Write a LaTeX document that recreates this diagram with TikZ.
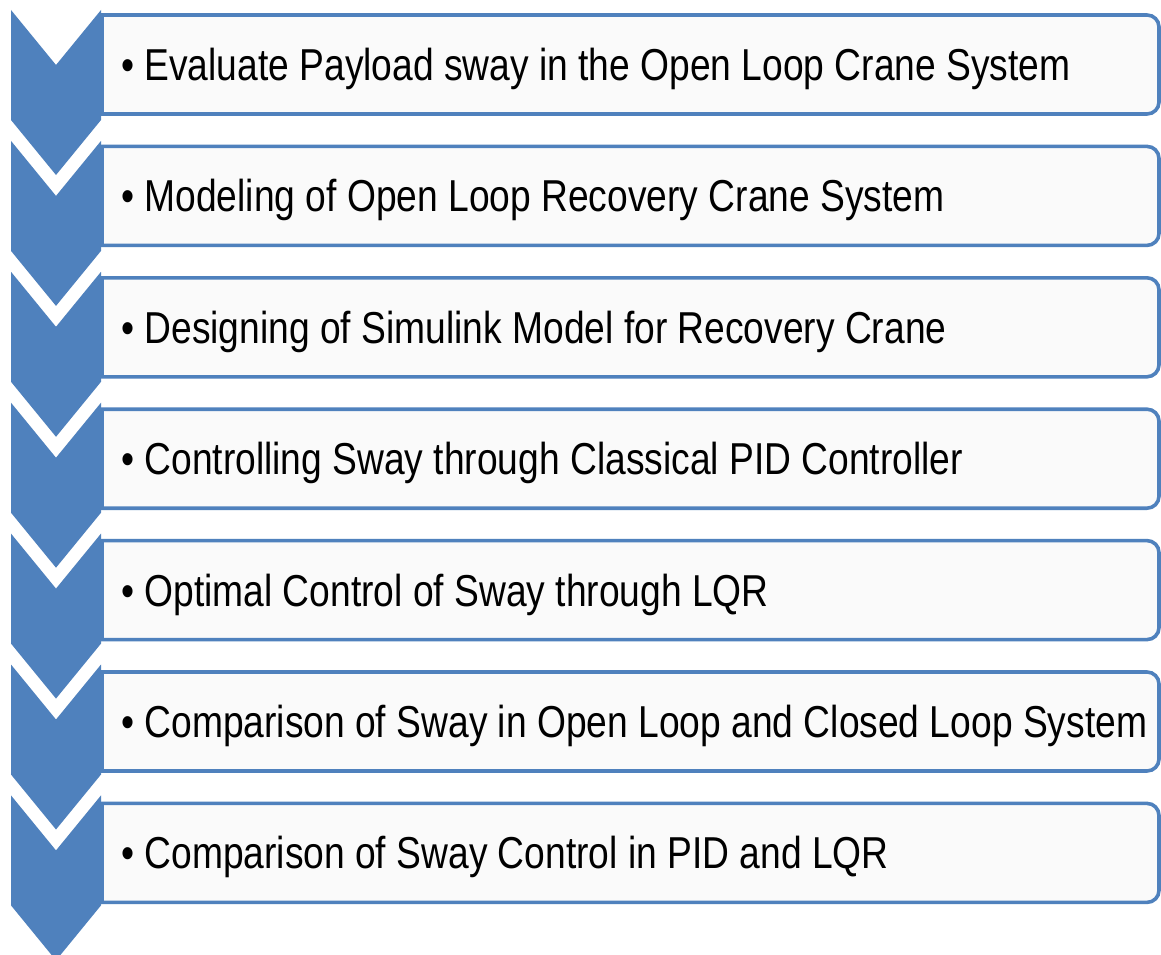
\documentclass[tikz,border=0pt]{standalone}
\usepackage{fontspec}
\setmainfont{Liberation Sans}
\definecolor{officeblue}{HTML}{4F81BD}
\definecolor{boxfill}{HTML}{FAFAFA}
\tikzset{
  chevron/.style={fill=officeblue, draw=none},
  listbox/.style={draw=officeblue, line width=3.6pt, fill=boxfill},
  itemtext/.style={anchor=base west, inner sep=0pt, font=\fontsize{44.7}{50}\selectfont, text=black}
}
\begin{document}
\begin{tikzpicture}[x=1pt,y=1pt]
\useasboundingbox (0,0) rectangle (1161,-955);
\fill[white] (0,0) rectangle (1161,-955);
\foreach \i/\txt in {
  0/{Evaluate Payload sway in the Open Loop Crane System},
  1/{Modeling of Open Loop Recovery Crane System},
  2/{Designing of Simulink Model for Recovery Crane},
  3/{Controlling Sway through Classical PID Controller},
  4/{Optimal Control of Sway through LQR},
  5/{Comparison of Sway in Open Loop and Closed Loop System},
  6/{Comparison of Sway Control in PID and LQR}} {
  \pgfmathsetmacro\bt{-(15+131.4*\i)}
  \pgfmathsetmacro\bb{\bt-99}
  \pgfmathsetmacro\bbr{\bb+12}
  \pgfmathsetmacro\base{\bt-65.5}
  \draw[listbox] (102,\bt) -- (1147,\bt) arc[start angle=90,end angle=0,radius=12]
     -- (1159,\bbr) arc[start angle=0,end angle=-90,radius=12] -- (102,\bb) -- cycle;
  \node[itemtext] (t\i) at (121,\base) {\scalebox{0.832}[1]{• \txt}};
}
\foreach \i in {0,...,6} {
  \pgfmathsetmacro\ct{-(10+130.9*\i)}
  \pgfmathsetmacro\cn{\ct-55}
  \pgfmathsetmacro\cs{\ct-110}
  \pgfmathsetmacro\cp{\ct-165}
  \fill[chevron] (11,\ct) -- (56,\cn) -- (101,\ct) -- (101,\cs) -- (56,\cp) -- (11,\cs) -- cycle;
}
\end{tikzpicture}
\end{document}
